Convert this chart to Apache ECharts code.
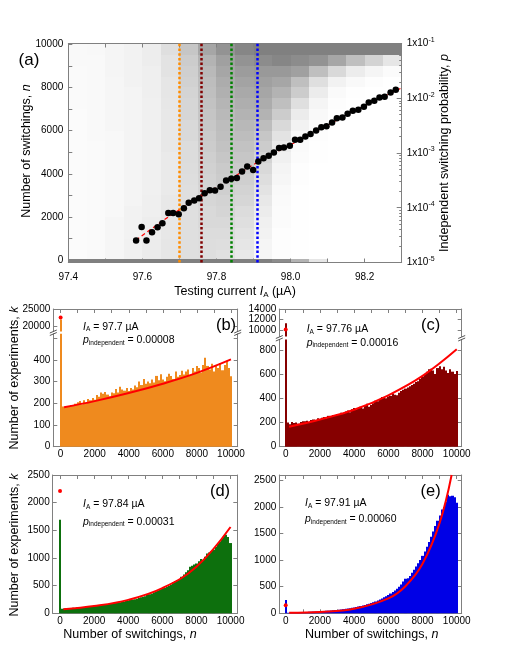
<!DOCTYPE html>
<html><head><meta charset="utf-8">
<script src="https://cdn.jsdelivr.net/npm/echarts@6/dist/echarts.min.js"></script>
<style>html,body{margin:0;padding:0;background:#fff}#c{width:507px;height:648px}</style>
</head><body><div id="c"></div>
<script>
// ---------------- DATA ----------------
const cloudColEdges = [97.40,97.45,97.50,97.55,97.60,97.65,97.70,97.75,97.80,97.85,97.90,97.95,98.00,98.05,98.10,98.15,98.20,98.25,98.30];
const cloudRowEdges = [10000,9500,9000,8500,8000,7500,7000,6500,6000,5500,5000,4500,4000,3500,3000,2500,2000,1500,1000,500,0];
const cloudDensity = [
 [ 5, 6, 8,10,14,25,45,70,85,95,100,100,100,100,100,100,100,100],
 [ 5, 5, 8,10,14,22,40,60,75,85, 90, 95, 90, 85, 70, 50, 35, 20],
 [ 4, 5, 8,10,13,22,38,55,70,78, 80, 80, 75, 50, 30, 15,  8,  3],
 [ 4, 5, 7,10,13,20,36,52,65,72, 75, 70, 50, 25, 10,  5,  2,  0],
 [ 4, 5, 7, 9,13,20,34,50,62,68, 70, 60, 40, 15,  4,  1,  0,  0],
 [ 4, 5, 7, 9,12,19,32,48,58,64, 65, 50, 25,  8,  2,  0,  0,  0],
 [ 3, 5, 7, 9,12,18,32,46,55,60, 60, 40, 15,  5,  1,  0,  0,  0],
 [ 3, 5, 7, 9,12,18,30,44,52,56, 52, 30, 10,  3,  0,  0,  0,  0],
 [ 3, 5, 6, 9,12,18,30,42,50,52, 45, 22,  6,  2,  0,  0,  0,  0],
 [ 3, 4, 6, 9,12,18,28,40,48,48, 40, 16,  4,  1,  0,  0,  0,  0],
 [ 3, 4, 6, 9,12,17,28,38,45,45, 35, 12,  3,  1,  0,  0,  0,  0],
 [ 3, 4, 6, 9,12,17,27,36,42,42, 30,  9,  2,  0,  0,  0,  0,  0],
 [ 3, 4, 6, 9,12,17,26,35,40,38, 26,  7,  2,  0,  0,  0,  0,  0],
 [ 3, 4, 6, 9,12,17,25,33,38,35, 22,  5,  1,  0,  0,  0,  0,  0],
 [ 3, 4, 6, 9,13,18,25,32,35,32, 18,  4,  1,  0,  0,  0,  0,  0],
 [ 3, 4, 6,10,13,18,25,30,33,28, 15,  3,  1,  0,  0,  0,  0,  0],
 [ 3, 4, 7,10,14,19,25,30,30,25, 12,  3,  1,  0,  0,  0,  0,  0],
 [ 3, 4, 7,10,14,19,25,28,28,22, 10,  2,  1,  0,  0,  0,  0,  0],
 [ 3, 4, 7,11,15,20,25,27,26,20,  8,  2,  1,  0,  0,  0,  0,  0],
 [ 3, 5, 8,12,16,20,25,26,24,18,  7,  2,  1,  0,  0,  0,  0,  0]
];
const zeroRowDensity = [100,100,100,100,100,100,100,100,100,100,100,90,60,20,0,0,0,0];

const pointCurrent = [97.583,97.598,97.611,97.626,97.641,97.654,97.670,97.683,97.698,97.712,97.725,97.740,97.753,97.768,97.782,97.796,97.811,97.826,97.840,97.855,97.869,97.883,97.899,97.913,97.927,97.941,97.955,97.969,97.982,97.998,98.012,98.026,98.040,98.054,98.069,98.083,98.097,98.112,98.125,98.140,98.154,98.168,98.183,98.198,98.211,98.226,98.240,98.254,98.270,98.284];
const pointProb = [2.51e-5,4.46e-5,2.51e-5,3.56e-5,4.41e-5,5.21e-5,8.04e-5,8.04e-5,7.60e-5,9.79e-5,1.24e-4,1.35e-4,1.49e-4,1.84e-4,2.09e-4,2.06e-4,2.43e-4,3.13e-4,3.40e-4,3.51e-4,4.57e-4,5.64e-4,4.91e-4,6.97e-4,8.04e-4,8.95e-4,1.02e-3,1.24e-3,1.26e-3,1.36e-3,1.74e-3,1.74e-3,2.00e-3,2.23e-3,2.57e-3,2.96e-3,3.09e-3,3.60e-3,4.33e-3,4.44e-3,5.19e-3,5.89e-3,6.14e-3,6.97e-3,8.34e-3,8.97e-3,1.03e-2,1.07e-2,1.27e-2,1.43e-2];
const fitCurrent = [97.583,97.674,97.755,97.836,97.917,98.025,98.132,98.240,98.299];
const fitProb = [2.58e-5,7.08e-5,1.57e-4,3.29e-4,7.18e-4,1.73e-3,4.20e-3,9.95e-3,1.53e-2];
const markerCurrent = [97.70,97.76,97.84,97.91];
const markerColors = ['#ff8c00','#800000','#008000','#0000ff'];

const binWidth = 125;
const histB = [185,180,188,184,192,190,198,205,210,196,214,200,220,214,224,216,238,230,250,244,252,240,232,250,246,266,250,276,264,258,270,256,270,264,282,274,300,284,312,290,300,292,310,296,326,306,334,310,302,322,336,326,312,346,322,330,350,332,346,356,330,362,346,372,362,342,376,410,372,356,382,346,372,362,386,352,376,396,362,325];
const histC = [200,185,205,195,200,190,205,210,210,215,205,220,225,218,235,228,240,245,235,255,250,262,258,270,265,280,275,290,300,285,310,320,305,320,330,315,340,355,330,345,360,380,375,395,410,405,400,415,420,440,430,425,445,460,470,480,490,500,510,520,535,540,560,580,600,620,640,645,630,600,650,665,640,660,630,610,640,620,600,625];
const histD = [80,85,90,88,95,100,98,105,110,115,112,120,125,130,128,135,140,145,150,155,158,165,170,175,180,190,195,200,210,215,225,230,240,250,255,265,275,290,300,310,330,345,360,380,400,410,420,440,460,480,500,520,560,580,600,620,660,700,740,780,840,860,880,900,940,980,960,1020,1080,1100,1120,1150,1200,1260,1300,1350,1400,1420,1380,1270];
const histE = [10,12,14,15,16,18,20,22,24,26,28,30,32,34,36,38,40,44,46,50,52,56,60,64,68,72,78,84,90,96,102,110,118,126,136,146,156,168,180,192,206,222,240,258,278,300,322,346,372,400,430,462,500,540,600,650,660,700,760,820,880,940,1000,1080,1160,1250,1340,1440,1540,1640,1740,1840,1950,2000,2100,2230,2200,2210,2180,2080];
const zeroBar = {b: 22000, c: 11300, d: 1690, e: 250};
const zeroFit = {b: 22600, c: 10100, d: 2210, e: 150};
const fitB = [[200,182],[2000,210],[4000,247],[6000,290],[8000,340],[10000,402]];
const fitC = [[200,165],[2000,225],[4000,305],[6000,425],[8000,585],[10000,805]];
const fitD = [[200,75],[2000,131],[4000,243],[6000,455],[8000,842],[10000,1560]];
const fitE = [[200,9],[2000,26],[4000,85],[6000,280],[7000,510],[8000,930],[9000,1700],[9700,2600]];
const panelText = {
  b: ['97.7', '0.00008'], c: ['97.76', '0.00016'], d: ['97.84', '0.00031'], e: ['97.91', '0.00060']
};
const histColors = {b: '#ef8a1e', c: '#860000', d: '#0d700d', e: '#0000e6'};

// ---------------- LAYOUT ----------------
const FONT = 'Liberation Sans';
const LC = '#808080';
const G = {
  a:  {left: 68.3, top: 43.5, width: 333.4, height: 219},
  bU: {left: 53.3, top: 309, width: 184.4, height: 22.5},
  bL: {left: 53.3, top: 333.8, width: 184.4, height: 112.9},
  cU: {left: 279.3, top: 309, width: 182.4, height: 27.5},
  cL: {left: 279.3, top: 339.5, width: 182.4, height: 107.2},
  d:  {left: 52.7, top: 475, width: 184.6, height: 138.3},
  e:  {left: 279.3, top: 475, width: 182.4, height: 138.3}
};
const gridKeys = ['a','bU','bL','cU','cL','d','e'];
const grids = gridKeys.map(k => Object.assign({containLabel: false}, G[k]));

const xAxes = [], yAxes = [];
const plain = v => String(Math.round(v));
function lbl(values, extra) {
  return Object.assign({show: true, customValues: values, fontFamily: FONT, fontSize: 10, color: '#000', margin: 5, formatter: plain}, extra || {});
}
function axis(o) {
  return Object.assign({
    type: 'value', splitLine: {show: false},
    axisLine: {show: true, onZero: false, lineStyle: {color: LC, width: 1}},
    axisTick: {show: true, inside: true, length: 4, lineStyle: {color: LC}},
    axisLabel: {show: false}
  }, o);
}
function addX(o) { xAxes.push(axis(o)); return xAxes.length - 1; }
function addY(o) { yAxes.push(axis(o)); return yAxes.length - 1; }

const aTicksX = [97.4,97.5,97.6,97.7,97.8,97.9,98.0,98.1,98.2,98.3];
const aX = addX({gridIndex: 0, min: 97.4, max: 98.3, position: 'bottom',
  axisTick: {show: true, inside: true, length: 4, customValues: aTicksX, lineStyle: {color: LC}},
  axisLabel: lbl([97.4,97.6,97.8,98.0,98.2], {margin: 10, formatter: v => v.toFixed(1)})});
addX({gridIndex: 0, min: 97.4, max: 98.3, position: 'top',
  axisTick: {show: true, inside: true, length: 4, customValues: aTicksX, lineStyle: {color: LC}}});
const aTicksN = [0,1000,2000,3000,4000,5000,6000,7000,8000,9000,10000];
const aY = addY({gridIndex: 0, min: -100, max: 10030, position: 'left',
  axisTick: {show: true, inside: true, length: 4, customValues: aTicksN, lineStyle: {color: LC}},
  axisLabel: lbl([0,2000,4000,6000,8000,10000], {margin: 5})});
const aYlog = addY({gridIndex: 0, type: 'log', logBase: 10, min: 1e-5, max: 1e-1, position: 'right',
  axisTick: {show: true, inside: true, length: 5, customValues: [1e-5,1e-4,1e-3,1e-2,1e-1], lineStyle: {color: LC}},
  axisLabel: lbl([1e-5,1e-4,1e-3,1e-2,1e-1], {
    margin: 5,
    formatter: v => '{a|1x10}{s|' + Math.round(Math.log10(v)) + '}',
    rich: {a: {fontFamily: FONT, fontSize: 10, color: '#000'}, s: {fontFamily: FONT, fontSize: 7, color: '#000', padding: [0, 0, 7, 0]}}
  })});
const minorLog = [];
[1e-5,1e-4,1e-3,1e-2].forEach(d => { for (let m = 2; m <= 9; m++) minorLog.push(d * m); });
addY({gridIndex: 0, type: 'log', logBase: 10, min: 1e-5, max: 1e-1, position: 'right',
  axisLine: {show: false},
  axisTick: {show: true, inside: true, length: 2.5, customValues: minorLog, lineStyle: {color: LC}}});

const histXTicks = [0,1000,2000,3000,4000,5000,6000,7000,8000,9000,10000];
const histXLabels = [0,2000,4000,6000,8000,10000];
function histAxes(gi, xmin, xmax, ymin, ymax, yLabels, yTicks, part) {
  const xi = addX({gridIndex: gi, min: xmin, max: xmax, position: 'bottom',
    axisLine: {show: part !== 'upper', onZero: false, lineStyle: {color: LC}},
    axisTick: {show: part !== 'upper', inside: true, length: 4, customValues: histXTicks, lineStyle: {color: LC}},
    axisLabel: part !== 'upper' ? lbl(histXLabels, {margin: 3}) : {show: false}});
  addX({gridIndex: gi, min: xmin, max: xmax, position: 'top',
    axisLine: {show: part !== 'lower', onZero: false, lineStyle: {color: LC}},
    axisTick: {show: part !== 'lower', inside: true, length: 4, customValues: histXTicks, lineStyle: {color: LC}}});
  const yi = addY({gridIndex: gi, min: ymin, max: ymax, position: 'left',
    axisTick: {show: true, inside: true, length: 4, customValues: yTicks, lineStyle: {color: LC}},
    axisLabel: lbl(yLabels, {margin: 3})});
  addY({gridIndex: gi, min: ymin, max: ymax, position: 'right',
    axisTick: {show: true, inside: true, length: 4, customValues: yTicks, lineStyle: {color: LC}}});
  return [xi, yi];
}
const axBU = histAxes(1, -430, 10395, 18644, 25000, [20000,25000], [20000,25000], 'upper');
const axBL = histAxes(2, -430, 10395, 0, 520, [0,100,200,300,400], [0,100,200,300,400,500], 'lower');
const axCU = histAxes(3, -375, 10290, 8760, 14000, [10000,12000,14000], [10000,12000,14000], 'upper');
const axCL = histAxes(4, -375, 10290, 0, 886, [0,200,400,600,800], [0,200,400,600,800], 'lower');
const axD  = histAxes(5, -430, 10395, 0, 2500, [0,500,1000,1500,2000,2500], [0,500,1000,1500,2000,2500], 'full');
const axE  = histAxes(6, -375, 10290, 0, 2600, [0,500,1000,1500,2000,2500], [0,500,1000,1500,2000,2500], 'full');

// ---------------- SERIES ----------------
function clipRect(rect, params) {
  const cs = params.coordSys;
  return echarts.graphic.clipRectByRect(rect, {x: cs.x, y: cs.y, width: cs.width, height: cs.height});
}
function cellRender(params, api) {
  const p0 = api.coord([api.value(0), api.value(2)]);
  const p1 = api.coord([api.value(1), api.value(3)]);
  const x = Math.round(Math.min(p0[0], p1[0])), x2 = Math.round(Math.max(p0[0], p1[0]));
  const y = Math.round(Math.min(p0[1], p1[1])), y2 = Math.round(Math.max(p0[1], p1[1]));
  const r = clipRect({x: x, y: y, width: x2 - x, height: y2 - y}, params);
  if (!r) return null;
  return {type: 'rect', shape: r, style: {fill: 'rgba(128,128,128,' + (api.value(4) / 100) + ')'}};
}
const cloudData = [];
cloudDensity.forEach((row, ri) => row.forEach((d, ci) => {
  if (d > 0) cloudData.push([cloudColEdges[ci], cloudColEdges[ci + 1], cloudRowEdges[ri + 1], cloudRowEdges[ri], d]);
}));
const zeroData = [];
zeroRowDensity.forEach((d, ci) => { if (d > 0) zeroData.push([cloudColEdges[ci], cloudColEdges[ci + 1], -75, 75, d]); });

const series = [];
series.push({type: 'custom', xAxisIndex: aX, yAxisIndex: aY, renderItem: cellRender, data: cloudData, silent: true, z: 1});
series.push({type: 'custom', xAxisIndex: aX, yAxisIndex: aY, renderItem: cellRender, data: zeroData, silent: true, z: 1,
  markLine: {silent: true, symbol: 'none', label: {show: false},
    data: markerCurrent.map((c, i) => ({xAxis: c, lineStyle: {color: markerColors[i], width: 2.5, type: [2.5, 2.2], cap: 'butt', opacity: 1}}))}});
series.push({type: 'line', xAxisIndex: aX, yAxisIndex: aYlog, symbol: 'none', smooth: 0.3,
  lineStyle: {color: '#ff0000', width: 1.2, type: [4, 3]}, data: fitCurrent.map((c, i) => [c, fitProb[i]]), z: 5});
series.push({type: 'scatter', xAxisIndex: aX, yAxisIndex: aYlog, symbol: 'circle', symbolSize: 6.5,
  itemStyle: {color: '#000', opacity: 1}, data: pointCurrent.map((c, i) => [c, pointProb[i]]), z: 6});

function histRender(color) {
  return function (params, api) {
    const x0 = api.value(0), x1 = api.value(1), v = api.value(2);
    const p0 = api.coord([x0, 0]), p1 = api.coord([x1, v]);
    const xa = Math.round(p0[0]), xb = Math.round(p1[0]);
    const rect = {x: xa, y: Math.min(p0[1], p1[1]), width: Math.max(xb - xa, 1), height: Math.abs(p0[1] - p1[1])};
    const r = clipRect(rect, params);
    if (!r) return null;
    return {type: 'rect', shape: r, style: {fill: color}};
  };
}
function histData(vals) { return vals.map((v, i) => [binWidth * (i + 1) - binWidth / 2, binWidth * (i + 1) + binWidth / 2, v]); }
function zeroData1(v) { return [[-binWidth / 2, binWidth / 2, v]]; }
function addHist(key, axArr, vals, fit, withZeroDot) {
  const col = histColors[key];
  if (vals) series.push({type: 'custom', xAxisIndex: axArr[0], yAxisIndex: axArr[1], renderItem: histRender(col), data: histData(vals), silent: true, z: 2});
  series.push({type: 'custom', xAxisIndex: axArr[0], yAxisIndex: axArr[1], renderItem: histRender(col), data: zeroData1(zeroBar[key]), silent: true, z: 3});
  if (fit) series.push({type: 'line', xAxisIndex: axArr[0], yAxisIndex: axArr[1], symbol: 'none', smooth: 0.4, clip: true,
    lineStyle: {color: '#ff0000', width: 2}, data: fit, z: 4});
  if (withZeroDot) series.push({type: 'scatter', xAxisIndex: axArr[0], yAxisIndex: axArr[1], symbolSize: 4, clip: true,
    itemStyle: {color: '#ff0000', opacity: 1}, data: [[0, zeroFit[key]]], z: 5});
}
addHist('b', axBU, null, null, true);
addHist('b', axBL, histB, fitB, false);
addHist('c', axCU, null, null, true);
addHist('c', axCL, histC, fitC, false);
addHist('d', axD, histD, fitD, true);
addHist('e', axE, histE, fitE, true);

// ---------------- TEXT ----------------
const R = {
  n: {fontFamily: FONT, fontSize: 12.5, color: '#000'},
  i: {fontFamily: FONT, fontSize: 12.5, fontStyle: 'italic', color: '#000'},
  sub: {fontFamily: FONT, fontSize: 8, color: '#000', padding: [7, 0, 0, 0]}
};
const RA = {
  n: {fontFamily: FONT, fontSize: 10.5, color: '#000'},
  i: {fontFamily: FONT, fontSize: 10.5, fontStyle: 'italic', color: '#000'},
  sub: {fontFamily: FONT, fontSize: 6.5, color: '#000', padding: [6, 0, 0, 0]}
};
function txt(x, y, text, rich, opts) {
  return Object.assign({type: 'text', x: x, y: y, silent: true, z: 50,
    style: {text: text, rich: rich, fontFamily: FONT, fontSize: 12.5, fill: '#000', align: 'center', verticalAlign: 'middle'}}, opts || {});
}
function ltxt(x, y, text) {
  return {type: 'text', x: x, y: y, silent: true, z: 50,
    style: {text: text, rich: RA, fontFamily: FONT, fontSize: 10.5, fill: '#000', align: 'left', verticalAlign: 'middle'}};
}
const graphics = [
  {type: 'text', x: 29, y: 60, silent: true, style: {text: '(a)', fontFamily: FONT, fontSize: 17, fill: '#000', align: 'center', verticalAlign: 'middle'}},
  txt(26.7, 151, '{n|Number of switchings, }{i|n}', R, {rotation: Math.PI / 2}),
  txt(235, 291.5, '{n|Testing current }{i|I}{sub|A}{n| (µA)}', R),
  txt(445, 153, '{n|Independent switching probability, }{i|p}', R, {rotation: Math.PI / 2}),
  txt(15, 378, '{n|Number of experiments, }{i|k}', R, {rotation: Math.PI / 2}),
  txt(15, 545, '{n|Number of experiments, }{i|k}', R, {rotation: Math.PI / 2}),
  txt(130, 635, '{n|Number of switchings, }{i|n}', R),
  txt(371.7, 635, '{n|Number of switchings, }{i|n}', R)
];
const panelLabelPos = {b: [226, 325.7], c: [430.7, 325], d: [220, 491.7], e: [430.7, 491.7]};
const annPos = {b: [83, 326.7, 340], c: [306.7, 329.3, 342.7], d: [83, 504.3, 521.7], e: [305, 503.3, 519.3]};
['b','c','d','e'].forEach(k => {
  const lp = panelLabelPos[k];
  graphics.push({type: 'text', x: lp[0], y: lp[1], silent: true, z: 50,
    style: {text: '(' + k + ')', fontFamily: FONT, fontSize: 16.5, fill: '#000', align: 'center', verticalAlign: 'middle'}});
  const ap = annPos[k];
  graphics.push(ltxt(ap[0], ap[1], '{i|I}{sub|A}{n| = ' + panelText[k][0] + ' µA}'));
  graphics.push(ltxt(ap[0], ap[2], '{i|p}{sub|independent}{n| = ' + panelText[k][1] + '}'));
});
function breakMarks(xl, xr, y) {
  [xl, xr].forEach(x => {
    graphics.push({type: 'line', silent: true, z: 50, shape: {x1: x - 3.5, y1: y + 0.5, x2: x + 3.5, y2: y - 2.5}, style: {stroke: '#555', lineWidth: 1}});
    graphics.push({type: 'line', silent: true, z: 50, shape: {x1: x - 3.5, y1: y + 3, x2: x + 3.5, y2: y}, style: {stroke: '#555', lineWidth: 1}});
  });
}
breakMarks(G.bL.left, G.bL.left + G.bL.width, 332.5);
breakMarks(G.cL.left, G.cL.left + G.cL.width, 338);

const chart = echarts.init(document.getElementById('c'), null, {renderer: 'canvas'});
chart.setOption({
  animation: false, backgroundColor: '#fff',
  grid: grids, xAxis: xAxes, yAxis: yAxes, series: series, graphic: graphics
});
</script></body></html>
